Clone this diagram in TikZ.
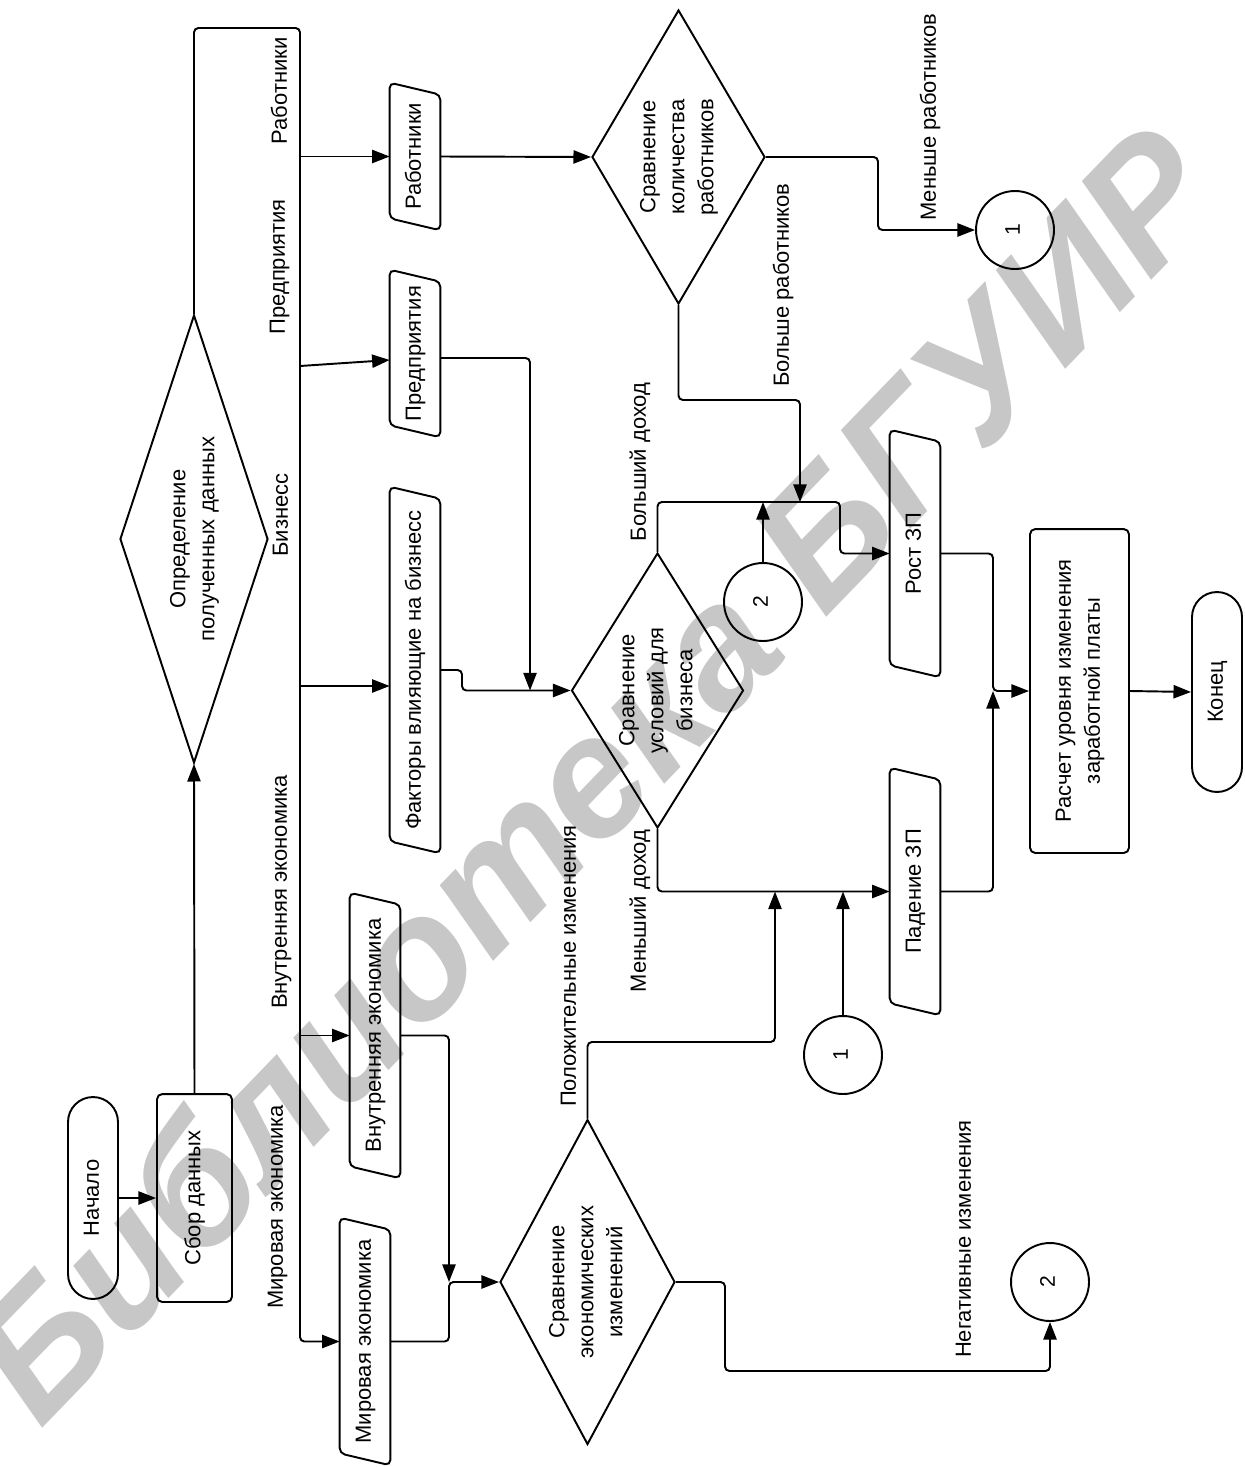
\documentclass[tikz,border=0pt]{standalone}
\usepackage{fontspec}
\setmainfont{Liberation Sans}
\usepackage{graphicx}
\usetikzlibrary{arrows.meta, shapes.geometric, calc}
\newcommand{\fcfont}{\fontsize{12.5}{16.5}\selectfont}
\newcommand{\vtxt}[1]{\rotatebox{90}{\begin{tabular}{@{}c@{}}#1\end{tabular}}}
\tikzset{
  fcbase/.style={draw, line width=1.1pt, font=\fcfont, inner sep=2pt},
  termnode/.style={fcbase, rounded corners=0.5cm, minimum width=1cm},
  procnode/.style={fcbase, rounded corners=3pt},
  datanode/.style={font=\fcfont, minimum width=1cm, inner sep=2pt},
  decnode/.style={fcbase, diamond, inner sep=0pt},
  connnode/.style={fcbase, circle, minimum size=1.56cm, font=\fontsize{12}{14}\selectfont},
  lbl/.style={font=\fcfont, inner sep=0pt},
  flow/.style={-{Triangle[length=10pt,width=7.5pt]}, line width=1.1pt, rounded corners=2.5pt},
  wmark/.style={text=black!22, inner sep=0pt, font=\fontsize{98}{98}\selectfont\bfseries\itshape},
}
\begin{document}
\begin{tikzpicture}[x=0.02cm, y=-0.02cm]
  \useasboundingbox (0,0) rectangle (1244,1467);
  % watermark
  \node[wmark, rotate=46] (wm) at (590,772) {Библиотека БГУИР};

  % start, collection, sorting
  \node[termnode, minimum height=4.04cm] (start) at (93,1198) {\vtxt{Начало}};
  \node[procnode, minimum width=1.5cm, minimum height=4.16cm] (collect) at (194.5,1198) {\vtxt{Сбор данных}};
  \node[decnode, aspect=0.33, minimum width=2.96cm, minimum height=8.96cm] (determ) at (194,539) {\vtxt{Определение\\полученных данных}};

  % data
  \node[datanode, minimum height=2.94cm] (rab) at (415,156.5) {\vtxt{Работники}};
  \node[datanode, minimum height=3.34cm] (pred) at (415,353.5) {\vtxt{Предприятия}};
  \node[datanode, minimum height=7.32cm] (fact) at (415,670) {\vtxt{Факторы влияющие на бизнесс}};
  \node[datanode, minimum height=5.7cm] (vnut) at (375,1035.5) {\vtxt{Внутренняя экономика}};
  \node[datanode, minimum height=4.94cm] (mir) at (365,1341.5) {\vtxt{Мировая экономика}};
  \node[datanode, minimum height=4.94cm] (rost) at (915,553.5) {\vtxt{Рост ЗП}};
  \node[datanode, minimum height=4.94cm] (pad) at (915,891.5) {\vtxt{Падение ЗП}};
  \foreach \n in {rab,pred,fact,vnut,mir,rost,pad}
    \draw[line width=1.1pt, rounded corners=3pt] (\n.north west) -- ([yshift=-0.24cm]\n.north east)
      -- (\n.south east) -- ([yshift=0.24cm]\n.south west) -- cycle;

  % comparisons
  \node[decnode, aspect=0.588, minimum width=3.46cm, minimum height=5.88cm] (cmpw) at (678.5,157) {\vtxt{Сравнение\\количества\\работников}};
  \node[decnode, aspect=0.625, minimum width=3.44cm, minimum height=5.5cm] (cmpb) at (657.5,690.5) {\vtxt{Сравнение\\условий для\\бизнеса}};
  \node[decnode, aspect=0.538, minimum width=3.5cm, minimum height=6.5cm] (cmpe) at (587.5,1282) {\vtxt{Сравнение\\экономических\\изменений}};

  % result
  \node[procnode, minimum width=1.98cm, minimum height=6.48cm] (calc) at (1079.5,691) {\vtxt{Расчет уровня изменения\\заработной платы}};
  \node[termnode, minimum height=4cm] (finish) at (1217,692) {\vtxt{Конец}};

  % connectors
  \node[connnode] (ca) at (1015,230) {\vtxt{1}};
  \node[connnode] (cb) at (763,602) {\vtxt{2}};
  \node[connnode] (cc) at (843,1055) {\vtxt{1}};
  \node[connnode] (cd) at (1050,1282) {\vtxt{2}};

  % labels
  \node[lbl] (lrab) at (281,91) {\vtxt{Работники}};
  \node[lbl] (lpred) at (279,267) {\vtxt{Предприятия}};
  \node[lbl] (lbiz) at (282,515) {\vtxt{Бизнесс}};
  \node[lbl] (lvnut) at (281,892) {\vtxt{Внутренняя экономика}};
  \node[lbl] (lmir) at (277,1207) {\vtxt{Мировая экономика}};
  \node[lbl] (lless) at (930,117) {\vtxt{Меньше работников}};
  \node[lbl] (lmore) at (783,285) {\vtxt{Больше работников}};
  \node[lbl] (lhigh) at (640,462) {\vtxt{Больший доход}};
  \node[lbl] (llow) at (640,911) {\vtxt{Меньший доход}};
  \node[lbl] (lpos) at (570,966) {\vtxt{Положительные изменения}};
  \node[lbl] (lneg) at (965,1239) {\vtxt{Негативные изменения}};

  % flow
  \draw[flow] (start.east) -- (collect.west);
  \draw[flow] (collect.north) -- (determ.south);
  \coordinate (bustop) at (300,28);
  \draw[flow] (determ.north) |- (bustop) -- (bustop |- mir.west) -- (mir.west);
  \draw[flow] (bustop |- rab.west) -- (rab.west);
  \draw[flow] (bustop |- 0,366) -- (pred.west |- 0,360);
  \draw[flow] (bustop |- 0,686) -- (fact.west |- 0,686);
  \draw[flow] (bustop |- vnut.west) -- (vnut.west);

  \coordinate (jecon) at (449,1282);
  \draw[flow] (vnut.east) -| (jecon);
  \draw[flow] (mir.east) -| (jecon) -- (cmpe.west);

  \coordinate (jbiz) at (530,690.5);
  \draw[flow] (pred.east |- 0,358) -| (jbiz);
  \draw[flow] (fact.east |- 0,670) -- (462,670) |- (cmpb.west);

  \draw[flow] (rab.east) -- (cmpw.west);
  \draw[flow] (cmpw.east) -- (878,157) |- (ca.west);
  \coordinate (jhigh) at (800,502);
  \draw[flow] (cmpw.south) |- (800,400) -- (jhigh);

  \draw[flow] (cmpb.north) |- (840,502) |- (rost.west);
  \draw[flow] (cb.north) -- (cb.north |- jhigh);
  \draw[flow] (cmpb.south) |- (pad.west);
  \draw[flow] (cc.north) -- (cc.north |- pad.west);
  \draw[flow] (cmpe.north) |- (775,1042) -- (775,0 |- pad.west);
  \draw[flow] (cmpe.east) -- (725,1282) |- (1050,1371) -- (cd.south);

  \coordinate (jsal) at (993,691);
  \draw[flow] (rost.east) -| (jsal) -- (calc.west);
  \draw[flow] (pad.east) -| (jsal);
  \draw[flow] (calc.east) -- (finish.west);
\end{tikzpicture}
\end{document}
